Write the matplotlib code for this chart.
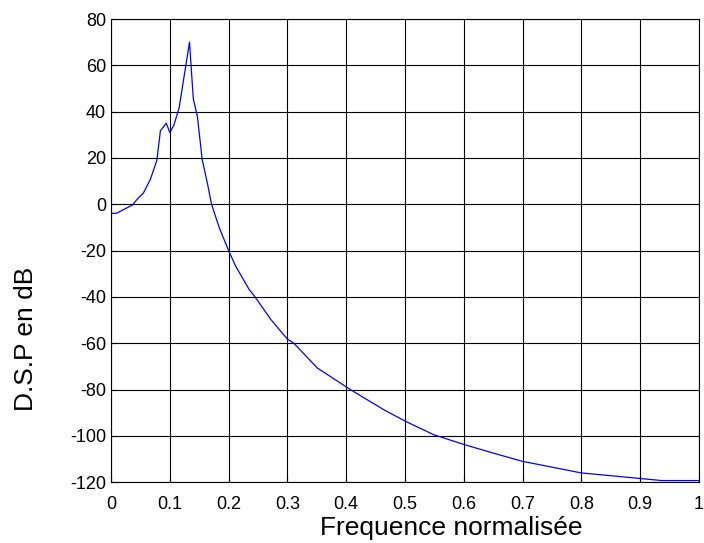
import matplotlib
matplotlib.use("Agg")
import matplotlib.pyplot as plt

plt.rcParams['font.family'] = ['Liberation Sans', 'DejaVu Sans']
plt.rcParams['axes.unicode_minus'] = False

# D.S.P values
freq = [0.0, 0.01, 0.022, 0.036, 0.047, 0.055, 0.067, 0.078, 0.084, 0.094,
        0.1, 0.107, 0.116, 0.1335, 0.14, 0.147, 0.155, 0.164, 0.171, 0.184,
        0.2, 0.212, 0.235, 0.245, 0.272, 0.3, 0.311, 0.351, 0.386, 0.407,
        0.464, 0.5, 0.549, 0.6, 0.651, 0.7, 0.8, 0.9, 0.937, 1.0]
dsp = [-4.0, -3.8, -2.2, -0.4, 2.9, 4.8, 10.8, 19.0, 31.7, 35.0,
       31.0, 34.2, 41.8, 70.0, 45.5, 37.8, 19.5, 9.0, 0.0, -10.0,
       -20.0, -26.7, -36.8, -40.0, -49.8, -58.2, -60.0, -70.7, -76.5, -80.0,
       -88.7, -93.6, -99.5, -103.7, -107.5, -111.0, -116.0, -118.4, -119.3, -119.3]

xticks = [0, 0.1, 0.2, 0.3, 0.4, 0.5, 0.6, 0.7, 0.8, 0.9, 1]
xticklabels = ['0', '0.1', '0.2', '0.3', '0.4', '0.5', '0.6', '0.7', '0.8', '0.9', '1']
yticks = list(range(-120, 81, 20))

fig = plt.figure(figsize=(7.04, 5.43), dpi=100)
ax = fig.add_axes([0.1577, 0.112, 0.835, 0.853])
ax.plot(freq, dsp, color='#0000ff', linewidth=0.9)

ax.set_xlim(0, 1)
ax.set_ylim(-120, 80)
ax.set_xticks(xticks)
ax.set_xticklabels(xticklabels)
ax.set_yticks(yticks)
ax.grid(True, color='black', linewidth=0.8, linestyle='-')
ax.tick_params(direction='in', labelsize=13, length=4)
ax.tick_params(axis='x', pad=10)
ax.tick_params(axis='y', pad=3.5)
for s in ax.spines.values():
    s.set_linewidth(0.8)

ax.set_xlabel('Frequence normalisée', fontsize=19)
ax.set_ylabel('D.S.P en dB', fontsize=19)
ax.xaxis.set_label_coords(0.578, -0.072)
ax.yaxis.set_label_coords(-0.124, 0.31)

fig.savefig('out.png', dpi=100)
